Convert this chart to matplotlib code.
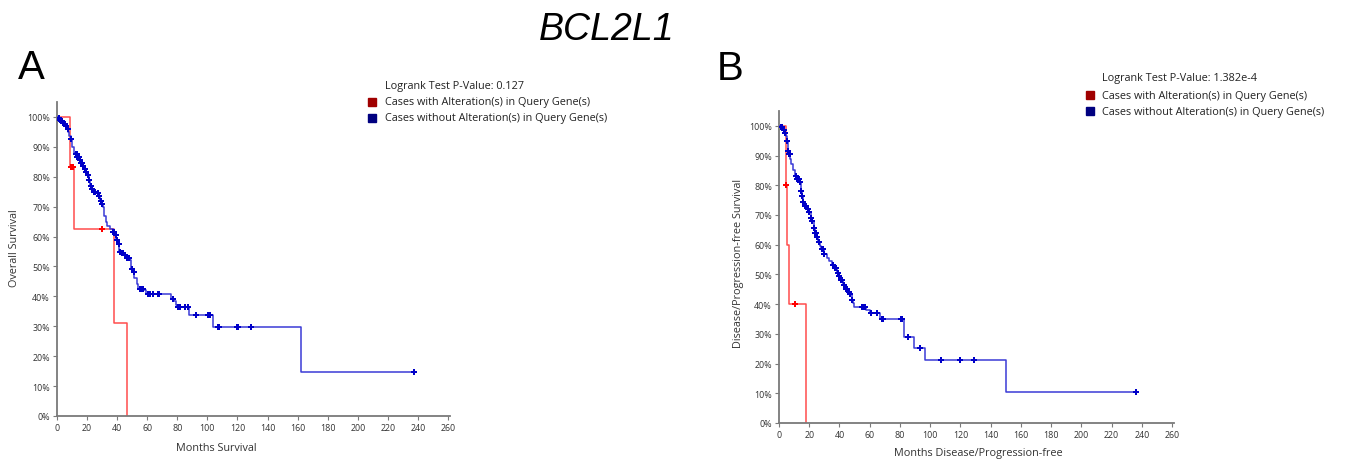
import numpy as np
import matplotlib
matplotlib.use('Agg')
import matplotlib.pyplot as plt
from matplotlib.lines import Line2D

plt.rcParams['font.family'] = ['Open Sans', 'DejaVu Sans']

# ---- panel A: overall survival ----
a_alt_t = [8.6, 11.5, 38.1, 46.3]
a_alt_s = [83.3, 62.5, 31.25, 0.0]
a_alt_cens = [9.4, 10.5, 29.9]

a_wt_t = [0.5, 1.5, 2.5, 3.5, 4.5, 5.5, 6.5, 7.5, 8.3, 9, 10, 11, 12, 13.5, 15, 16, 17, 18,
          19, 20, 21, 22, 23, 24, 26, 27.5, 28.5, 29.5, 30.5, 31.5, 32.5, 33.5, 35.5, 37,
          38.5, 39.5, 40.5, 41.5, 43, 45, 46, 48.5, 49.5, 50.5, 51.5, 53, 54, 58, 59.5, 76,
          77.5, 79, 80, 88, 103.5, 162.5]
a_wt_s = [99.5, 99, 98.5, 98, 97.5, 97, 96, 95, 93.5, 92.5, 90, 88, 87.5, 86.5, 85.5, 84.5,
          83.5, 82.5, 81.5, 80.5, 79, 77, 76, 75, 74.5, 73.5, 72, 71, 70, 67, 65, 63.5, 62.5,
          61.5, 60.5, 59, 57.5, 55, 54.5, 54, 53, 52.3, 49, 48, 46, 44, 42.5, 42, 40.7, 39,
          38.5, 37, 36.6, 33.7, 29.6, 14.7]
a_wt_cens = [1, 1.8, 2.5, 3, 4, 5, 6, 7, 9, 12.5, 13, 13.5, 14, 14.5, 15.5, 16, 16.5, 17.5,
             18.5, 19.5, 20.5, 21, 21.5, 22.5, 23.5, 24.5, 25, 25.5, 27, 28, 29, 30, 37.5, 38,
             39, 40, 41, 42, 43, 43.5, 44, 45.5, 46.5, 47, 48, 50, 51, 55, 56, 57, 60.5, 62,
             64, 67, 68, 77, 80.5, 82, 85, 87, 92.6, 100.5, 101.5, 107, 108, 119.5, 120.5,
             128.8, 237.4]

# ---- panel B: disease/progression-free survival ----
b_alt_t = [4.9, 5.2, 6.6, 17.9]
b_alt_s = [80.0, 60.0, 40.0, 0.0]
b_alt_cens = [4.95, 10.6]

b_wt_t = [1, 2.5, 3.5, 4.5, 5, 5.7, 6, 6.5, 7.3, 8, 9, 10.5, 12, 13.5, 14.5, 15, 16, 17,
          18.5, 19.5, 21, 22, 23, 23.8, 25, 26, 27, 28, 30, 31.6, 33, 35, 37, 38.5, 39.5,
          41, 42.5, 44, 45.5, 47, 48, 49, 49.7, 57.5, 60, 66.9, 83, 89.4, 96.7, 150.3]
b_wt_s = [99.5, 98.5, 97.5, 96.5, 95, 94, 91.5, 90.5, 89, 87, 85, 83, 82, 81, 78, 76.5,
          74.5, 73, 72, 71, 69, 68, 65.5, 64, 62.5, 61, 59.5, 58.5, 57, 55.5, 54.5, 53.3,
          52, 50.5, 49.5, 48, 46.5, 45, 44, 43.5, 41.5, 40.5, 38.9, 38, 36.9, 34.9, 28.8,
          25.4, 21.3, 10.6]
b_wt_cens = [1.5, 2, 3, 4, 5.5, 6.2, 6.8, 7, 11, 12, 13, 14, 14.7, 15.5, 16, 17, 18, 19,
             20, 21, 22, 23, 24, 24.5, 25, 26.5, 28.5, 29, 30, 36, 37, 38, 39, 40, 41, 42,
             43, 44, 45, 46, 47, 48, 55, 56, 57, 61, 65, 68, 69, 80.5, 81.5, 85.5, 93, 107,
             119.5, 129, 236.4]

pvals = ['0.127', '1.382e-4']
ylabels = ['Overall Survival', 'Disease/Progression-free Survival']
xlabels = ['Months Survival', 'Months Disease/Progression-free']
leg_labels = ['Cases with Alteration(s) in Query Gene(s)',
              'Cases without Alteration(s) in Query Gene(s)']

RED_LINE = '#ff4d4d'
RED_MK = '#ff0000'
BLUE_LINE = '#3b3bd6'
BLUE_MK = '#0000c8'


def surv_at(times, surv, t):
    idx = np.searchsorted(times, t, side='right')
    s = np.concatenate([[100.0], surv])
    return s[idx]


def km(ax, times, surv, cens, lc, mc, z):
    times = np.asarray(times, float)
    surv = np.asarray(surv, float)
    end = max(times.max(), max(cens))
    xs = np.concatenate([[0], times, [end]])
    ys = np.concatenate([[100], surv, [surv[-1]]])
    ax.step(xs, ys, where='post', color=lc, lw=1.1, zorder=z)
    cy = surv_at(times, surv, np.asarray(cens))
    ax.plot(cens, cy, 'P', color=mc, ms=5, mew=0, ls='none', zorder=z + 1)


W, H = 1354, 460
fig = plt.figure(figsize=(W / 100, H / 100), dpi=100)

def fx(px):
    return px / W

def fy(py):
    return 1 - py / H

# axes boxes in pixels: (x0, x260, y0pct, ytop)
boxes = [(57, 448, 417, 103), (779, 1172, 424, 112)]
axes = []
for x0, x260, y0, ytop in boxes:
    x1 = x0 + (x260 - x0) * 261.5 / 260
    ax = fig.add_axes([fx(x0), fy(y0), fx(x1 - x0), (y0 - ytop) / H])
    axes.append(ax)

data = [(a_alt_t, a_alt_s, a_alt_cens, a_wt_t, a_wt_s, a_wt_cens),
        (b_alt_t, b_alt_s, b_alt_cens, b_wt_t, b_wt_s, b_wt_cens)]

for i, ax in enumerate(axes):
    at, as_, ac, wt, ws, wc = data[i]
    km(ax, wt, ws, wc, BLUE_LINE, BLUE_MK, 3)
    km(ax, at, as_, ac, RED_LINE, RED_MK, 2)
    ax.set_xlim(0, 261.5)
    ax.set_ylim(0, 105)
    ax.set_xticks(np.arange(0, 261, 20))
    ax.set_yticks(np.arange(0, 101, 10))
    ax.set_yticklabels([f'{v}%' for v in range(0, 101, 10)])
    for s in ['top', 'right']:
        ax.spines[s].set_visible(False)
    for s in ['left', 'bottom']:
        ax.spines[s].set_color('#7a7a7a')
        ax.spines[s].set_linewidth(1.3)
    ax.tick_params(direction='out', length=3, width=0.8, color='#7a7a7a',
                   labelsize=6.4, labelcolor='#333333', pad=2)
    ax.patch.set_visible(False)

# text placement
fig.text(fx(607), fy(30), 'BCL2L1', fontsize=27, style='italic',
         family='Liberation Sans', ha='center', va='center')
fig.text(fx(31), fy(68), 'A', fontsize=29, family='Liberation Sans', ha='center', va='center')
fig.text(fx(730), fy(69), 'B', fontsize=29, family='Liberation Sans', ha='center', va='center')

ylab_pos = [(15, 248), (738, 263)]
xlab_pos = [(216, 449), (978, 454)]
for i in range(2):
    fig.text(fx(ylab_pos[i][0]), fy(ylab_pos[i][1]), ylabels[i], rotation=90,
             fontsize=7.8, color='#333333', ha='center', va='center')
    fig.text(fx(xlab_pos[i][0]), fy(xlab_pos[i][1]), xlabels[i],
             fontsize=7.8, color='#333333', ha='center', va='center')

# legends
leg_pos = [(372, 385, 86, 103, 119), (1090, 1102, 79, 96, 112)]
for i, (mx, tx, ty, r1, r2) in enumerate(leg_pos):
    fig.text(fx(tx), fy(ty), 'Logrank Test P-Value: ' + pvals[i], fontsize=7.8,
             color='#222222', ha='left', va='center')
    for py, col, lab in [(r1, '#a00000', leg_labels[0]), (r2, '#000080', leg_labels[1])]:
        fig.add_artist(Line2D([fx(mx)], [fy(py)], marker='s', ms=6, color=col,
                              transform=fig.transFigure))
        fig.text(fx(tx), fy(py), lab, fontsize=7.8, color='#222222',
                 ha='left', va='center')

fig.savefig('out.png', dpi=100)
